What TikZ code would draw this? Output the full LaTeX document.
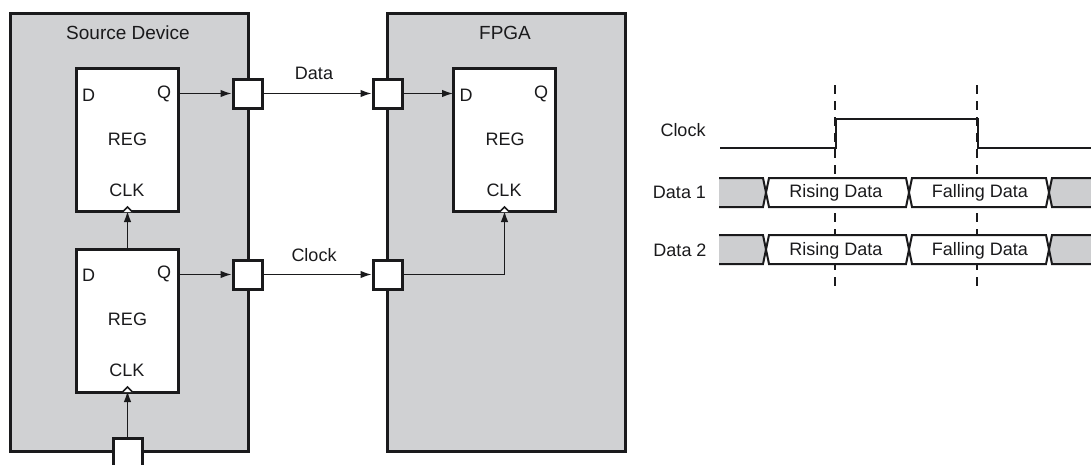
\documentclass[tikz,border=0pt]{standalone}
\usepackage{fontspec}
\setmainfont{Liberation Sans}
\usetikzlibrary{arrows.meta}
\definecolor{panel}{RGB}{208,209,211}
\definecolor{ink}{RGB}{26,26,28}
\definecolor{wave}{RGB}{205,206,208}
\tikzset{
  x=1pt,y=-1pt,
  lab/.style={inner sep=0pt,text=ink,font=\fontsize{18}{20}\selectfont,anchor=center},
  title/.style={lab,font=\fontsize{19}{21}\selectfont},
  device/.style={draw=ink,fill=panel,line width=3pt,outer sep=0pt},
  regbox/.style={draw=ink,fill=white,line width=3pt,outer sep=0pt},
  port/.style={draw=ink,fill=white,line width=3pt},
  wire/.style={draw=ink,line width=1.3pt,-{Latex[length=11pt,width=7.5pt]}},
  guide/.style={draw=ink,line width=1.3pt,dash pattern=on 8.5pt off 7.5pt},
  clockline/.style={draw=ink,line width=2.4pt},
  cell/.style={draw=ink,line width=2pt},
  pip/.style={draw=ink,fill=white,line width=1.6pt},
}
\newcommand{\datarow}[3]{%
  \path[fill=wave] (719,#1) -- (763,#1) -- (766,#3) -- (763,#2) -- (719,#2) -- cycle;
  \path[fill=wave] (1091,#1) -- (1052,#1) -- (1049,#3) -- (1052,#2) -- (1091,#2) -- cycle;
  \draw[cell] (719,#1) -- (763,#1) -- (766,#3) -- (763,#2) -- (719,#2);
  \draw[cell] (1091,#1) -- (1052,#1) -- (1049,#3) -- (1052,#2) -- (1091,#2);
  \draw[cell,fill=white] (766,#3) -- (769,#1) -- (906,#1) -- (909,#3) -- (906,#2) -- (769,#2) -- cycle;
  \draw[cell,fill=white] (909,#3) -- (912,#1) -- (1046,#1) -- (1049,#3) -- (1046,#2) -- (912,#2) -- cycle;
}
\begin{document}
\begin{tikzpicture}
\useasboundingbox (0,0) rectangle (1091,464);
\clip (0,0) rectangle (1091,464);
% panels
\node[device,minimum width=238pt,minimum height=438pt,inner sep=0pt,anchor=north west] (src) at (10,13) {};
\node[device,minimum width=238pt,minimum height=438pt,inner sep=0pt,anchor=north west] (fpga) at (387,13) {};
\node[title] (srclab) at (128,33) {Source Device};
\node[title] (fpgalab) at (505,33) {FPGA};
% registers
\foreach \n/\x/\y in {ra/76/68,rb/76/249,rc/453/68}{
  \node[regbox,minimum width=102pt,minimum height=143pt,inner sep=0pt,anchor=north west] (\n) at (\x,\y) {};
}
\node[lab] (ra-d) at (88.5,95) {D};
\node[lab] (ra-q) at (164,93.5) {Q};
\node[lab] (ra-r) at (127.5,139) {REG};
\node[lab] (ra-c) at (127,190) {CLK};
\node[lab] (rb-d) at (88.5,275) {D};
\node[lab] (rb-q) at (164,274) {Q};
\node[lab] (rb-r) at (127.5,319) {REG};
\node[lab] (rb-c) at (127,370) {CLK};
\node[lab] (rc-d) at (466,95) {D};
\node[lab] (rc-q) at (541,93.5) {Q};
\node[lab] (rc-r) at (505,139) {REG};
\node[lab] (rc-c) at (504,190) {CLK};
% ports
\foreach \n/\x/\y in {pa/247.5/93.5,pb/247.5/274.5,pc/387.5/93.5,pd/387.5/274.5,pe/127.5/452.5}{
  \node[port,minimum width=29pt,minimum height=29pt,inner sep=0pt] (\n) at (\x,\y) {};
}
% clock pips
\coordinate (ca) at (127.5,211);
\coordinate (cb) at (127.5,391);
\coordinate (cc) at (504.5,211);
% connectors
\draw[wire] (ra.north east |- pa.west) -- (pa.west);
\draw[wire] (rb.north east |- pb.west) -- (pb.west);
\draw[wire] (pa.east) -- (pc.west);
\draw[wire] (pb.east) -- (pd.west);
\draw[wire] (pc.east) -- (rc.west |- pc.east);
\draw[wire] (pd.east) -| (cc);
\draw[wire] (rb.north -| cb) -- (ca);
\draw[wire] (pe.north) -- (cb);
\foreach \p in {ca,cb,cc}{
  \draw[pip] (\p) ++(-5,1) -- ++(5,-5) -- ++(5,5);
}
\node[lab] (ldata) at (314,73) {Data};
\node[lab] (lclock) at (314,255) {Clock};
% timing
\coordinate (g1a) at (835,85);
\coordinate (g1b) at (835,290);
\coordinate (g2a) at (977,85);
\coordinate (g2b) at (977,290);
\draw[guide] (g1a) -- (g1b);
\draw[guide] (g2a) -- (g2b);
\datarow{178}{207}{192.5}
\datarow{235}{264}{249.5}
\draw[clockline] (720,148) -- (836,148) -- (836,119) -- (978,119) -- (978,148) -- (1091,148);
\node[lab] (tclk) at (683,130) {Clock};
\node[lab] (td1) at (679.5,192) {Data 1};
\node[lab] (td2) at (680,250) {Data 2};
\node[lab] (r1) at (836,192.5) {Rising Data};
\node[lab] (f1) at (980,192.5) {Falling Data};
\node[lab] (r2) at (836,250.5) {Rising Data};
\node[lab] (f2) at (980,250.5) {Falling Data};
\end{tikzpicture}
\end{document}
